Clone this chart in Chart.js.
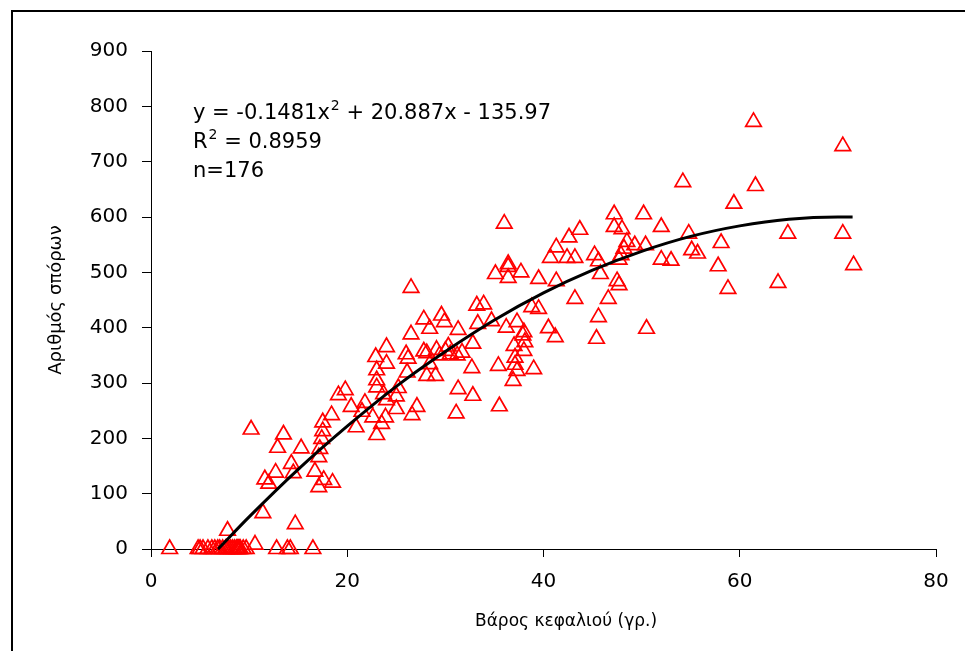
<!DOCTYPE html>
<html>
<head>
<meta charset="utf-8">
<script src="https://cdn.jsdelivr.net/npm/chart.js@4.4.1/dist/chart.umd.min.js"></script>
<style>
  html, body { margin: 0; padding: 0; background: #fff; }
  #wrap { width: 965px; height: 651px; }
</style>
</head>
<body>
<div id="wrap"><canvas id="chart" width="965" height="651"></canvas></div>
<script>
// head weight (g) and seed count
const headWeight = [
  1.9, 4.8, 5.0, 5.3, 5.8, 6.2, 6.5, 6.8, 7.0, 7.3, 7.6, 7.7, 7.9, 8.1, 8.3, 8.5, 8.7, 8.8, 8.9, 9.0, 9.1, 9.4, 9.7,
  12.8, 13.9, 14.2, 16.5, 10.6, 7.8, 11.4, 14.7,
  10.2, 13.5, 12.9, 15.3, 14.3, 12.7, 14.5, 11.6, 12.0, 16.7, 17.1, 17.6, 18.5,
  17.5, 18.4, 17.5, 17.4, 17.2, 17.1, 19.1, 19.8, 20.4, 21.8, 21.5, 20.9,
  23.0, 23.0, 23.0, 22.6, 23.9, 23.5, 22.9, 24.0, 23.0, 24.0, 23.7, 24.0, 25.0, 25.2, 25.0,
  26.6, 27.1, 26.5, 26.0, 26.2, 26.1, 27.8, 28.4, 27.8, 26.5,
  29.6, 29.9, 31.3, 33.3, 34.7, 36.2, 37.3, 37.9, 38.1, 32.8,
  28.1, 29.4, 30.0, 30.5, 31.2, 31.7, 30.3, 29.1, 28.1, 29.0, 28.4, 32.7, 35.4, 37.1, 37.3, 36.9,
  31.3, 32.8, 35.5, 31.1, 33.2, 33.9, 36.0, 36.4, 35.1, 37.7, 36.4, 36.4,
  47.2, 50.2, 47.2, 48.0, 52.0, 43.7, 42.6, 41.3, 40.7, 42.4, 43.2, 45.2, 45.6,
  48.5, 49.3, 50.4, 48.2, 47.9, 47.7, 52.0, 53.0, 39.5, 41.3, 45.8, 47.5, 47.7,
  43.2, 46.6, 45.6, 50.5, 45.4, 38.8, 39.5, 40.5, 41.2, 38.0, 37.1, 38.0, 37.0, 39.0,
  61.4, 70.5, 54.2, 61.6, 59.4, 54.8, 64.9, 70.5, 58.1, 55.1, 55.7, 57.8, 71.6, 63.9, 58.8
];
const seedCount = [
  0, 0, 0, 0, 0, 0, 0, 0, 0, 0, 0, 0, 0, 0, 0, 0, 0, 0, 0, 0, 0, 0, 0,
  0, 0, 0, 0, 8, 33, 65, 45,
  216, 207, 183, 182, 154, 138, 137, 126, 118, 140, 112, 125, 120,
  229, 242, 213, 199, 181, 166, 278, 287, 257, 264, 248, 220,
  206, 292, 305, 238, 238, 226, 347, 335, 323, 365, 280, 269, 276, 291, 253,
  242, 257, 388, 352, 344, 319, 415, 398, 357, 472,
  422, 410, 396, 407, 412, 400, 410, 386, 374, 371,
  354, 350, 358, 352, 350, 355, 366, 360, 313, 313, 334, 327, 331, 333, 322, 304,
  289, 277, 258, 245, 440, 442, 588, 510, 497, 500, 490, 515,
  605, 605, 582, 578, 582, 577, 563, 545, 526, 526, 526, 531, 520,
  555, 549, 549, 543, 531, 523, 523, 521, 488, 484, 497, 484, 477,
  452, 452, 419, 398, 380, 437, 434, 399, 383, 358, 346, 392, 367, 325,
  772, 728, 663, 656, 624, 570, 570, 570, 553, 540, 534, 511, 513, 481, 470
];

// polynomial trendline
const trendX = [6.84, 10, 15, 20, 25, 30, 35, 40, 45, 50, 55, 60, 65, 70, 71.5];
const trendY = [0, 58, 144, 222, 294, 357, 414, 463, 504, 538, 565, 584, 596, 600, 600];

const xTicks = [0, 20, 40, 60, 80];
const yTicks = [0, 100, 200, 300, 400, 500, 600, 700, 800, 900];

const equationText = ['y = -0.1481x', '2', ' + 20.887x - 135.97'];
const r2Text = ['R', '2', ' = 0.8959'];
const nText = 'n=176';
const xTitle = 'Βάρος κεφαλιού (γρ.)';
const yTitle = 'Αριθμός σπόρων';

const FONT = '"DejaVu Sans", "Liberation Sans", Arial, sans-serif';

function drawSup(ctx, parts, x, y) {
  ctx.font = '21px ' + FONT;
  ctx.fillText(parts[0], x, y);
  x += ctx.measureText(parts[0]).width;
  ctx.font = '14px ' + FONT;
  ctx.fillText(parts[1], x + 1, y - 9);
  x += ctx.measureText(parts[1]).width + 1;
  ctx.font = '21px ' + FONT;
  ctx.fillText(parts[2], x, y);
}

const notesPlugin = {
  id: 'notes',
  beforeDraw(chart) {
    const ctx = chart.ctx;
    ctx.save();
    ctx.fillStyle = '#fff';
    ctx.fillRect(0, 0, chart.width, chart.height);
    // outer frame (only left and top show in the crop)
    ctx.strokeStyle = '#000';
    ctx.lineWidth = 2;
    ctx.beginPath();
    ctx.moveTo(12, chart.height + 5);
    ctx.lineTo(12, 11);
    ctx.lineTo(chart.width + 5, 11);
    ctx.stroke();
    ctx.restore();
  },
  afterDraw(chart) {
    const ctx = chart.ctx;
    ctx.save();
    ctx.fillStyle = '#000';
    ctx.textBaseline = 'alphabetic';
    ctx.textAlign = 'left';
    drawSup(ctx, equationText, 193, 119);
    drawSup(ctx, r2Text, 193, 148);
    ctx.font = '21px ' + FONT;
    ctx.fillText(nText, 193, 177);
    ctx.font = '17px ' + FONT;
    ctx.textAlign = 'center';
    ctx.fillText(xTitle, 566, 626);
    ctx.restore();
  }
};

const points = headWeight.map((x, i) => ({ x: x, y: seedCount[i] }));
const trend = trendX.map((x, i) => ({ x: x, y: trendY[i] }));

new Chart(document.getElementById('chart'), {
  type: 'scatter',
  data: {
    datasets: [
      {
        type: 'line',
        data: trend,
        borderColor: '#000',
        borderWidth: 3,
        pointRadius: 0,
        fill: false,
        cubicInterpolationMode: 'monotone',
        clip: false,
        order: 0
      },
      {
        data: points,
        pointStyle: 'triangle',
        pointRadius: 9,
        borderColor: '#ff0000',
        backgroundColor: 'rgba(0,0,0,0)',
        borderWidth: 1.7,
        clip: false,
        order: 1
      }
    ]
  },
  options: {
    responsive: false,
    animation: false,
    events: [],
    layout: { padding: { top: 51, right: 29, left: 0, bottom: 0 } },
    plugins: { legend: { display: false }, tooltip: { enabled: false } },
    scales: {
      x: {
        type: 'linear',
        min: 0,
        max: 80,
        afterBuildTicks: s => { s.ticks = xTicks.map(v => ({ value: v })); },
        afterFit: s => { s.height = 102; },
        ticks: { color: '#000', font: { family: FONT, size: 20 }, padding: 13, maxRotation: 0 },
        grid: { drawOnChartArea: false, drawTicks: true, tickLength: 8, color: '#000', lineWidth: 1 },
        border: { color: '#000', width: 1 },
        title: { display: false }
      },
      y: {
        min: 0,
        max: 900,
        afterBuildTicks: s => { s.ticks = yTicks.map(v => ({ value: v })); },
        afterFit: s => { s.width = 151; },
        ticks: { color: '#000', font: { family: FONT, size: 20 }, padding: 14 },
        grid: { drawOnChartArea: false, drawTicks: true, tickLength: 9, color: '#000', lineWidth: 1 },
        border: { color: '#000', width: 1 },
        title: {
          display: true,
          text: yTitle,
          color: '#000',
          font: { family: FONT, size: 18 },
          padding: { top: 46, bottom: 0 }
        }
      }
    }
  },
  plugins: [notesPlugin]
});
</script>
</body>
</html>
